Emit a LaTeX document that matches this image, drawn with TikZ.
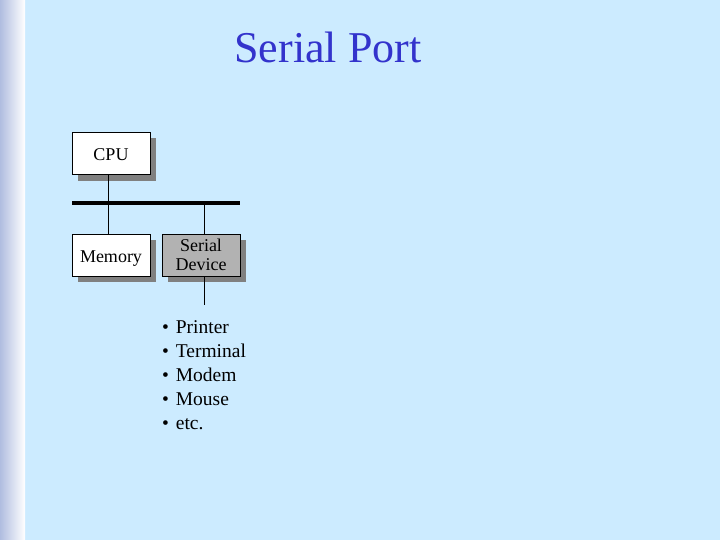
\documentclass[tikz,border=0pt]{standalone}
\usepackage{fontspec}
\setmainfont{Liberation Serif}
\begin{document}
\begin{tikzpicture}[x=1pt,y=-1pt,
  box/.style={draw=black,line width=0.8pt,minimum width=78pt,minimum height=42pt,inner sep=0pt},
  boxtext/.style={font=\fontsize{18}{20}\selectfont,align=center,inner sep=0pt},
  wire/.style={draw=black,line width=0.8pt}]
\definecolor{bg}{HTML}{CCEBFF}
\definecolor{band}{HTML}{B0BDE0}
\definecolor{titlec}{HTML}{3333CC}
\definecolor{devfill}{HTML}{B2B2B2}
\useasboundingbox (0,0) rectangle (720,540);
\fill[bg] (0,0) rectangle (720,540);
\shade[left color=band,right color=white] (0,0) rectangle (25,540);
\node[text=titlec,font=\fontsize{44}{50}\selectfont,anchor=center] (title) at (328,47) {Serial Port};
% shadows
\fill[black!50] (78,138) rectangle (156,181);
\fill[black!50] (78,240) rectangle (156,282);
\fill[black!50] (168,240) rectangle (246,282);
% boxes
\node[box,fill=white,label={[boxtext,yshift=-1pt]center:CPU}] (cpu) at (111,153.5) {};
\node[box,fill=white,label={[boxtext,yshift=-3.5pt]center:Memory}] (mem) at (111,255) {};
\node[box,fill=devfill,label={[boxtext,yshift=0pt]center:Serial\\[-1pt]Device}] (dev) at (201,255) {};
% bus
\coordinate (busL) at (72,203);
\coordinate (busR) at (240,203);
\draw[line width=4pt] (busL) -- (busR);
\draw[wire] (cpu.south -| 108,0) -- (mem.north -| 108,0);
\draw[wire] (204,203) -- (dev.north -| 204,0);
\coordinate (devend) at (204,305);
\draw[wire] (dev.south -| 204,0) -- (devend);
% list
\node[anchor=north west,align=left,font=\fontsize{19.5}{24}\selectfont,inner sep=0pt] (list) at (162,320)
{\textbullet\hspace{0.35em}Printer\\ \textbullet\hspace{0.35em}Terminal\\ \textbullet\hspace{0.35em}Modem\\ \textbullet\hspace{0.35em}Mouse\\ \textbullet\hspace{0.35em}etc.};
\end{tikzpicture}
\end{document}
